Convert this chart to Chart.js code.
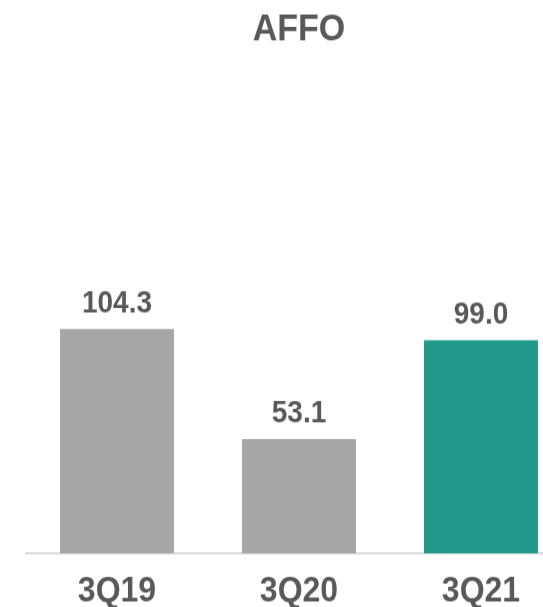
<!DOCTYPE html>
<html>
<head>
<meta charset="utf-8">
<script src="https://cdn.jsdelivr.net/npm/chart.js@4"></script>
<style>
  html, body { margin: 0; padding: 0; background: #ffffff; overflow: hidden; }
  body { width: 543px; height: 607px; }
  #wrap { width: 580px; height: 542px; transform: scale(1, 1.12); transform-origin: 0 0; }
  canvas { display: block; }
</style>
</head>
<body>
<div id="wrap"><canvas id="c" width="580" height="542"></canvas></div>
<script>
const chartTitle = "AFFO";
const categories = ["3Q19", "3Q20", "3Q21"];
const affoValues = [104.3, 53.1, 99.0];

const GRAY = "#a6a6a6";
const TEAL = "#229a8b";
const TEXT = "#595959";
const barColors = [GRAY, GRAY, TEAL];

Chart.defaults.font.family = "Arial, 'Liberation Sans', sans-serif";

const valueLabels = {
  id: "valueLabels",
  afterDatasetsDraw(chart) {
    const ctx = chart.ctx;
    const meta = chart.getDatasetMeta(0);
    ctx.save();
    ctx.fillStyle = TEXT;
    ctx.font = "bold 28px Arial, 'Liberation Sans', sans-serif";
    ctx.textAlign = "center";
    ctx.textBaseline = "alphabetic";
    meta.data.forEach((bar, i) => {
      ctx.fillText(affoValues[i].toFixed(1), bar.x, bar.y - 15);
    });
    ctx.restore();
  }
};

new Chart(document.getElementById("c"), {
  type: "bar",
  data: {
    labels: categories,
    datasets: [{
      data: affoValues,
      backgroundColor: barColors,
      borderWidth: 0,
      categoryPercentage: 1.0,
      barPercentage: 0.626
    }]
  },
  options: {
    responsive: false,
    animation: false,
    events: [],
    layout: { padding: { left: 26, right: 8, top: 0, bottom: 0 } },
    plugins: {
      legend: { display: false },
      tooltip: { enabled: false },
      title: {
        display: true,
        text: chartTitle,
        color: TEXT,
        font: { size: 34, weight: "bold" },
        padding: { top: 6, bottom: 63 }
      }
    },
    scales: {
      y: {
        display: false,
        min: 0,
        max: 200
      },
      x: {
        grid: { display: false, drawTicks: false },
        border: { display: true, color: "#d9d9d9", width: 2 },
        ticks: {
          color: TEXT,
          font: { size: 32, weight: "bold" },
          padding: 15,
          maxRotation: 0
        },
        afterFit(scale) { scale.height = 48; }
      }
    }
  },
  plugins: [valueLabels]
});
</script>
</body>
</html>
